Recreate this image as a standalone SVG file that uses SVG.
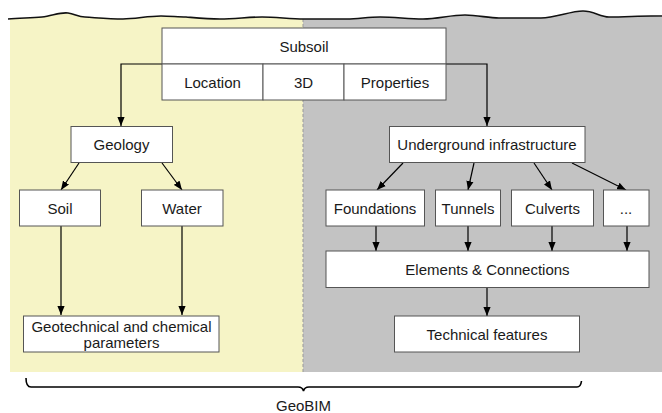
<svg xmlns="http://www.w3.org/2000/svg" width="662" height="413" viewBox="0 0 662 413">
<defs>
<marker id="ah" viewBox="0 0 10 8" refX="10" refY="4" markerWidth="9" markerHeight="7.5" markerUnits="userSpaceOnUse" orient="auto">
<path d="M0,0 L10,4 L0,8 z" fill="#000"/>
</marker>
<style>
.box{fill:#fff;stroke:#555;stroke-width:1}
.t{font-family:"Liberation Sans",Arial,sans-serif;font-size:15px;fill:#1a1a1a;text-anchor:middle;dominant-baseline:central}
.c{fill:none;stroke:#000;stroke-width:1.2;marker-end:url(#ah)}
</style>
</defs>
<rect width="662" height="413" fill="#fff"/>
<path d="M10,19 L42,17 L68,13 L85,17 L123,19 L161,16 L186,17 L220,19 L262,17 L303,19 L303,372 L10,372 Z" fill="#f6f4c6"/>
<path d="M303,19 L347,19 L380,17 L423,19 L465,15 L499,18 L541,18 L583,11 L609,17 L651,16 L662,17 L662,372 L303,372 Z" fill="#c3c3c3"/>
<line x1="303" y1="19" x2="303" y2="372" stroke="#999" stroke-width="1" stroke-dasharray="3,2"/>
<path d="M8,19 C20,18 30,18 42,17 C52,16 60,12 68,13 C75,14 78,17 85,17 C100,18 110,19 123,19 C135,19 148,16 161,16 C170,16 178,17 186,17 C198,18 208,19 220,19 C235,19 248,17 262,17 C276,17 290,19 304,19 C318,19 332,19 347,19 C358,19 368,17 380,17 C395,17 408,19 423,19 C438,19 450,15 465,15 C478,15 488,18 499,18 C514,18 528,18 541,18 C556,18 570,11 583,11 C594,11 600,17 609,17 C624,17 638,16 651,16 L662,16" fill="none" stroke="#111" stroke-width="1.6"/>
<g id="connectors">
<path class="c" d="M162,64 H121 V126"/>
<path class="c" d="M446,64 H487 V126"/>
<path class="c" d="M79,163 L61,190"/>
<path class="c" d="M162,163 L182,190"/>
<path class="c" d="M61,226 V315"/>
<path class="c" d="M182,226 V315"/>
<path class="c" d="M403,163 L377,190"/>
<path class="c" d="M474,163 L468,190"/>
<path class="c" d="M534,163 L552,190"/>
<path class="c" d="M572,163 L626,190"/>
<path class="c" d="M376,226 V251"/>
<path class="c" d="M468,226 V251"/>
<path class="c" d="M552,226 V251"/>
<path class="c" d="M627,226 V251"/>
<path class="c" d="M487,288 V316"/>
</g>
<g id="subsoil">
<rect class="box" x="162" y="28" width="284" height="36"/>
<text class="t" x="304" y="46">Subsoil</text>
</g>
<g id="location">
<rect class="box" x="162" y="64" width="101" height="36"/>
<text class="t" x="212.5" y="82">Location</text>
</g>
<g id="threed">
<rect class="box" x="263" y="64" width="81" height="36"/>
<text class="t" x="303.5" y="82">3D</text>
</g>
<g id="properties">
<rect class="box" x="344" y="64" width="102" height="36"/>
<text class="t" x="395" y="82">Properties</text>
</g>
<g id="geology">
<rect class="box" x="71" y="126.5" width="101.5" height="36"/>
<text class="t" x="121.5" y="144.5">Geology</text>
</g>
<g id="soil">
<rect class="box" x="19.5" y="190" width="81" height="36"/>
<text class="t" x="60" y="208">Soil</text>
</g>
<g id="water">
<rect class="box" x="141.5" y="190" width="81.5" height="36"/>
<text class="t" x="182" y="208">Water</text>
</g>
<g id="geotech">
<rect class="box" x="23.5" y="316" width="195.5" height="36"/>
<text class="t" x="121.5" y="326.5">Geotechnical and chemical</text>
<text class="t" x="121.5" y="342">parameters</text>
</g>
<g id="underground">
<rect class="box" x="389.5" y="126.5" width="195.5" height="36"/>
<text class="t" x="487" y="144.5">Underground infrastructure</text>
</g>
<g id="foundations">
<rect class="box" x="326" y="190" width="98.5" height="36"/>
<text class="t" x="375" y="208">Foundations</text>
</g>
<g id="tunnels">
<rect class="box" x="435.5" y="190" width="65" height="36"/>
<text class="t" x="468" y="208">Tunnels</text>
</g>
<g id="culverts">
<rect class="box" x="511.5" y="190" width="82" height="36"/>
<text class="t" x="552.5" y="208">Culverts</text>
</g>
<g id="more">
<rect class="box" x="603.5" y="190" width="45.5" height="36"/>
<text class="t" x="626" y="208">...</text>
</g>
<g id="elements">
<rect class="box" x="326" y="251" width="323" height="36.5"/>
<text class="t" x="487.5" y="269">Elements &amp; Connections</text>
</g>
<g id="technical">
<rect class="box" x="394.5" y="316" width="185" height="36"/>
<text class="t" x="487" y="334">Technical features</text>
</g>
<g id="geobim">
<path d="M26,378 C26,384 27,387 31,387 L298,387 C301,387 303,389 303.5,391 C304,389 306,387 309,387 L577,387 C580,387 581,385 581.5,381" fill="none" stroke="#000" stroke-width="1.6"/>
<text class="t" x="303.5" y="405">GeoBIM</text>
</g>
</svg>
